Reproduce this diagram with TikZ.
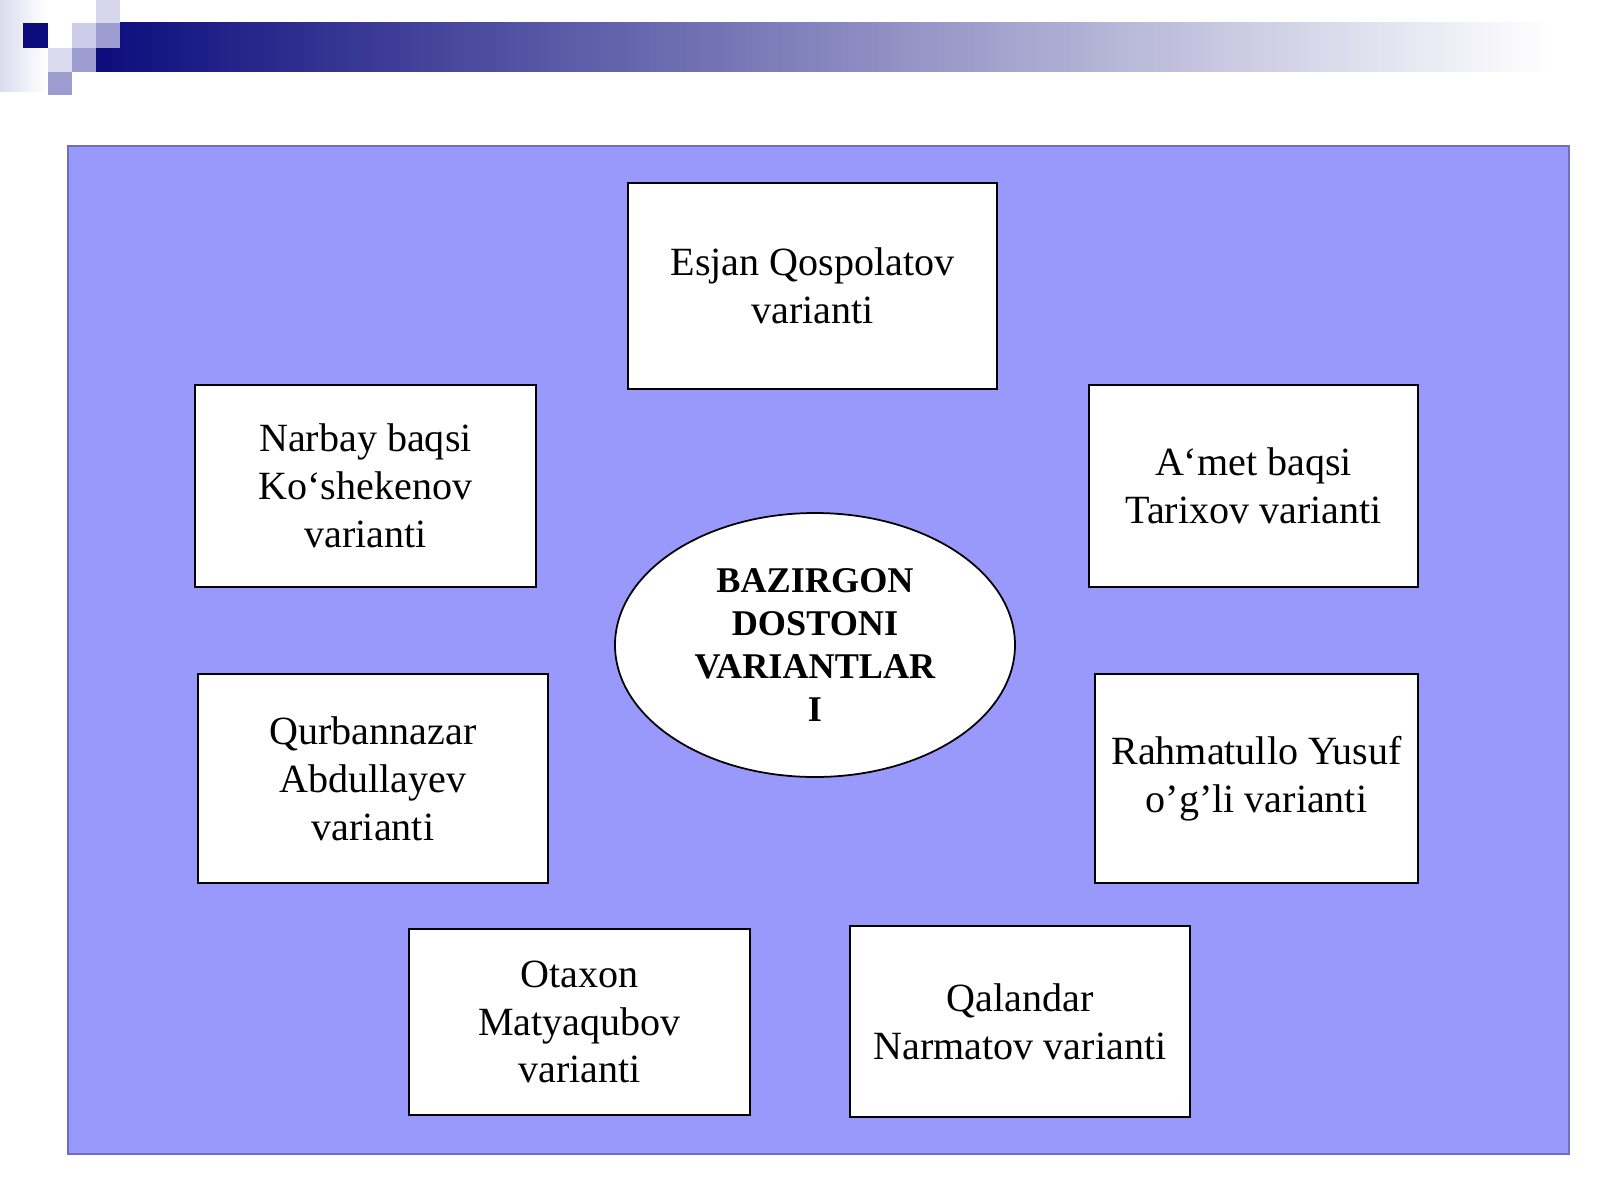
\documentclass[tikz,border=0pt]{standalone}
\usepackage{fontspec}
\setmainfont{Liberation Serif}
\usetikzlibrary{shapes.geometric}
\definecolor{panelblue}{RGB}{153,153,252}
\definecolor{paneledge}{RGB}{110,110,190}
\definecolor{navyhead}{RGB}{12,12,125}
\definecolor{lilac}{RGB}{156,156,208}
\definecolor{palelilac}{RGB}{204,204,232}
\begin{document}
\begin{tikzpicture}[
    varbox/.style={draw=black,line width=0.8pt,fill=white,align=center,inner sep=0pt,
      font=\fontsize{11.4}{13.6}\selectfont},
    core/.style={ellipse,draw=black,line width=0.5pt,fill=white,align=center,inner sep=0pt,
      minimum width=4cm,minimum height=2.64cm,font=\fontsize{10.3}{12.2}\selectfont\bfseries}]
    \useasboundingbox (0,0) rectangle (16,12);
    % header strip and squares
    \shade[left color=palelilac!70,right color=white] (0,11.08) rectangle (0.46,12);
    \shade[left color=navyhead,right color=white] (0.96,11.28) rectangle (15.51,11.77);
    \fill[navyhead] (0.23,11.52) rectangle (0.48,11.77);
    \fill[palelilac] (0.72,11.52) rectangle (0.96,11.77);
    \fill[palelilac!80] (0.96,11.77) rectangle (1.20,12);
    \fill[lilac] (0.96,11.52) rectangle (1.20,11.77);
    \fill[palelilac!70] (0.48,11.28) rectangle (0.72,11.52);
    \fill[lilac] (0.72,11.28) rectangle (0.96,11.52);
    \fill[lilac] (0.48,11.05) rectangle (0.72,11.28);
    % panel
    \draw[paneledge,fill=panelblue,line width=0.5pt] (0.68,0.46) rectangle (15.69,10.54);
    % centre and variants
    \node[core] (bazirgon) at (8.15,5.55) {BAZIRGON\\DOSTONI\\VARIANTLAR\\I};
    \node[varbox,minimum width=3.69cm,minimum height=2.06cm] (esjan) at (8.125,9.14) {Esjan Qospolatov\\varianti};
    \node[varbox,minimum width=3.41cm,minimum height=2.02cm] (narbay) at (3.655,7.14) {Narbay baqsi\\Ko‘shekenov\\varianti};
    \node[varbox,minimum width=3.29cm,minimum height=2.02cm] (amet) at (12.535,7.14) {A‘met baqsi\\Tarixov varianti};
    \node[varbox,minimum width=3.50cm,minimum height=2.09cm] (qurban) at (3.73,4.215) {Qurbannazar\\Abdullayev\\varianti};
    \node[varbox,minimum width=3.23cm,minimum height=2.09cm] (rahmat) at (12.565,4.215) {Rahmatullo Yusuf\\o’g’li varianti};
    \node[varbox,minimum width=3.41cm,minimum height=1.86cm] (otaxon) at (5.795,1.78) {Otaxon\\Matyaqubov\\varianti};
    \node[varbox,minimum width=3.40cm,minimum height=1.91cm] (qalandar) at (10.2,1.785) {Qalandar\\Narmatov varianti};
\end{tikzpicture}
\end{document}
